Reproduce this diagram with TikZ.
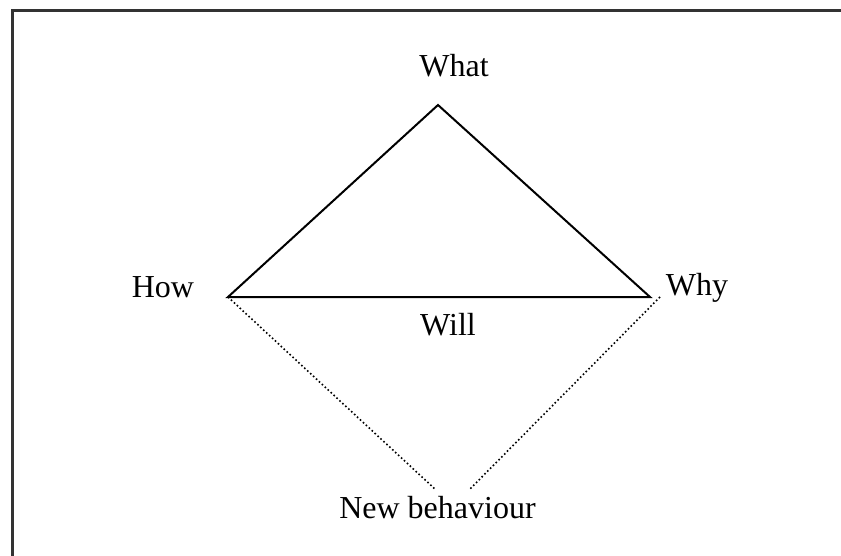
\documentclass[tikz,border=0pt]{standalone}
\usepackage{fontspec}
\setmainfont{Liberation Serif}
\begin{document}
\begin{tikzpicture}[x=0.5pt, y=-0.5pt,
		label/.style={inner sep=0pt, anchor=base, font=\fontsize{16}{19}\selectfont},
		edge/.style={line width=1pt},
		link/.style={line width=0.8pt, dash pattern=on 0.8pt off 1.2pt}]
				\useasboundingbox (0,0) rectangle (841,556);
				% Frame (only top and left edges show)
				\draw[line width=1.5pt, black!80] (12,11) rectangle (900,600);

				% Corners of the triangle
				\coordinate (apex) at (438,105);
				\coordinate (left) at (228,297);
				\coordinate (right) at (650,297);
				\coordinate (rightdot) at (660,297);
				\coordinate (botleft) at (436,490);
				\coordinate (botright) at (469,490);

				% Labels
				\node[label] (what) at (454,77) {What};
				\node[label] (how) at (163,297) {How};
				\node[label] (why) at (697,295) {Why};
				\node[label] (will) at (448,335) {Will};
				\node[label] (newb) at (437.5,518) {New behaviour};

				% Triangle
				\draw[edge, line join=miter] (left) -- (apex) -- (right) -- cycle;

				% Dotted links to the new behaviour
				\draw[link] (left) -- (botleft);
				\draw[link] (rightdot) -- (botright);

			\end{tikzpicture}
\end{document}
